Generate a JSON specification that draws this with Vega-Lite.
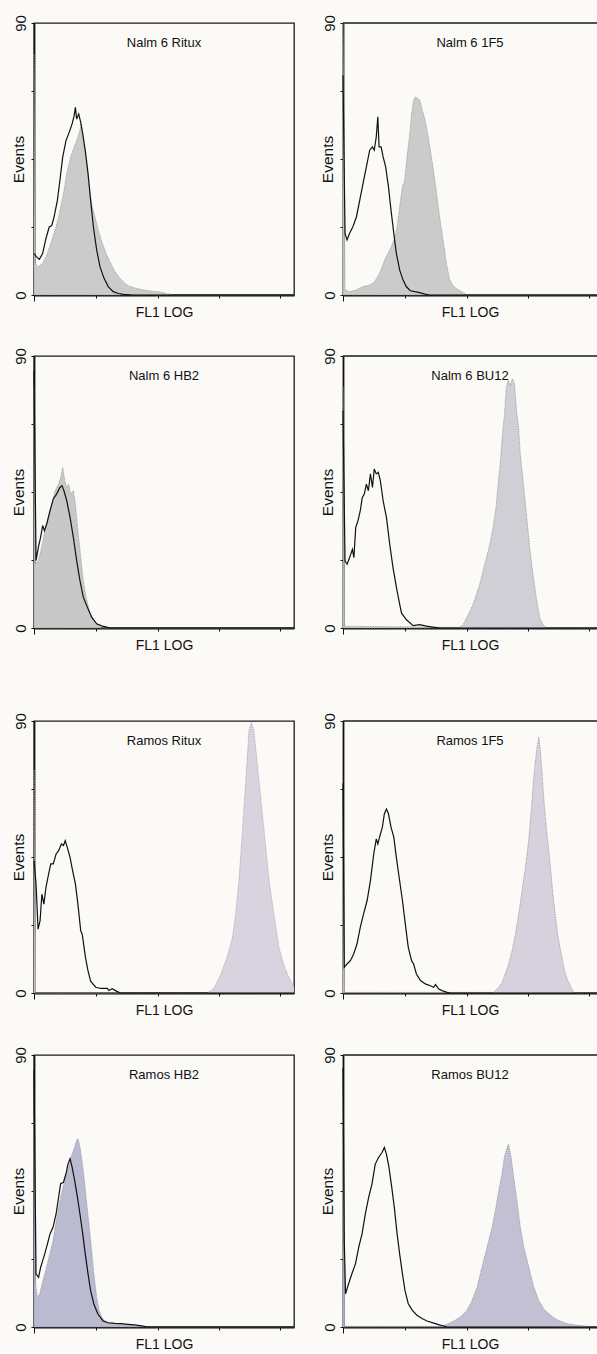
{
  "$schema": "https://vega.github.io/schema/vega-lite/v6.json",
  "background": "#fcfaf7",
  "padding": {"left": 10, "top": 14, "right": 0, "bottom": 0},
  "datasets": {
    "nalm6_ritux": [
      {"series":"control","channel":0,"events":13.7},{"series":"control","channel":10,"events":12.6},{"series":"control","channel":21,"events":11.8},{"series":"control","channel":34,"events":13.7},{"series":"control","channel":47,"events":18.7},{"series":"control","channel":60,"events":22.5},{"series":"control","channel":70,"events":23},{"series":"control","channel":79,"events":25.8},{"series":"control","channel":92,"events":31.3},{"series":"control","channel":102,"events":37.9},{"series":"control","channel":113,"events":45.6},{"series":"control","channel":126,"events":51.1},{"series":"control","channel":139,"events":53.9},{"series":"control","channel":150,"events":56.6},{"series":"control","channel":158,"events":59.3},{"series":"control","channel":163,"events":62.1},{"series":"control","channel":168,"events":58.2},{"series":"control","channel":176,"events":59.9},{"series":"control","channel":184,"events":57.1},{"series":"control","channel":192,"events":53.3},{"series":"control","channel":202,"events":47.8},{"series":"control","channel":213,"events":40.1},{"series":"control","channel":223,"events":31.3},{"series":"control","channel":234,"events":22.5},{"series":"control","channel":247,"events":14.8},{"series":"control","channel":260,"events":9.3},{"series":"control","channel":276,"events":5.5},{"series":"control","channel":293,"events":2.7},{"series":"control","channel":312,"events":1.1},{"series":"control","channel":332,"events":0.5},{"series":"control","channel":352,"events":0.2},{"series":"control","channel":391,"events":0},{"series":"control","channel":1024,"events":0},
      {"series":"stained","channel":0,"events":79.7},{"series":"stained","channel":5,"events":10.4},{"series":"stained","channel":17,"events":9.3},{"series":"stained","channel":34,"events":10.4},{"series":"stained","channel":50,"events":13.2},{"series":"stained","channel":66,"events":17},{"series":"stained","channel":83,"events":21.4},{"series":"stained","channel":100,"events":26.9},{"series":"stained","channel":116,"events":33.5},{"series":"stained","channel":129,"events":40.1},{"series":"stained","channel":144,"events":45.6},{"series":"stained","channel":158,"events":48.9},{"series":"stained","channel":168,"events":51.1},{"series":"stained","channel":179,"events":53.9},{"series":"stained","channel":186,"events":56.6},{"series":"stained","channel":194,"events":51.1},{"series":"stained","channel":205,"events":45.6},{"series":"stained","channel":215,"events":37.9},{"series":"stained","channel":227,"events":30.2},{"series":"stained","channel":240,"events":25.8},{"series":"stained","channel":253,"events":21.4},{"series":"stained","channel":267,"events":17.6},{"series":"stained","channel":284,"events":13.7},{"series":"stained","channel":299,"events":11},{"series":"stained","channel":319,"events":7.7},{"series":"stained","channel":339,"events":5.5},{"series":"stained","channel":365,"events":3.3},{"series":"stained","channel":391,"events":2.5},{"series":"stained","channel":417,"events":1.9},{"series":"stained","channel":457,"events":1.3},{"series":"stained","channel":496,"events":1},{"series":"stained","channel":522,"events":0.5},{"series":"stained","channel":549,"events":0},{"series":"stained","channel":1024,"events":0}
    ],
    "nalm6_1f5": [
      {"series":"control","channel":0,"events":72.7},{"series":"control","channel":8,"events":20.4},{"series":"control","channel":16,"events":18.2},{"series":"control","channel":26,"events":20.4},{"series":"control","channel":39,"events":22.6},{"series":"control","channel":53,"events":25.9},{"series":"control","channel":66,"events":31.4},{"series":"control","channel":79,"events":36.9},{"series":"control","channel":92,"events":42.4},{"series":"control","channel":105,"events":47.9},{"series":"control","channel":116,"events":49},{"series":"control","channel":123,"events":47.9},{"series":"control","channel":131,"events":52.3},{"series":"control","channel":137,"events":59},{"series":"control","channel":142,"events":49},{"series":"control","channel":150,"events":49},{"series":"control","channel":158,"events":45.7},{"series":"control","channel":168,"events":42.4},{"series":"control","channel":179,"events":35.8},{"series":"control","channel":189,"events":28.1},{"series":"control","channel":200,"events":20.4},{"series":"control","channel":210,"events":13.8},{"series":"control","channel":223,"events":8.3},{"series":"control","channel":236,"events":5},{"series":"control","channel":249,"events":2.8},{"series":"control","channel":265,"events":1.4},{"series":"control","channel":282,"events":1.1},{"series":"control","channel":302,"events":0.8},{"series":"control","channel":322,"events":0.3},{"series":"control","channel":341,"events":0},{"series":"control","channel":1000,"events":0},
      {"series":"stained","channel":0,"events":89.8},{"series":"stained","channel":8,"events":1.7},{"series":"stained","channel":26,"events":1.1},{"series":"stained","channel":53,"events":1.7},{"series":"stained","channel":79,"events":2.8},{"series":"stained","channel":105,"events":3.3},{"series":"stained","channel":125,"events":4.4},{"series":"stained","channel":144,"events":7.2},{"series":"stained","channel":164,"events":11.6},{"series":"stained","channel":177,"events":13.8},{"series":"stained","channel":190,"events":16},{"series":"stained","channel":203,"events":18.7},{"series":"stained","channel":213,"events":22.6},{"series":"stained","channel":223,"events":29.2},{"series":"stained","channel":234,"events":35.8},{"series":"stained","channel":243,"events":38},{"series":"stained","channel":252,"events":45.7},{"series":"stained","channel":263,"events":53.4},{"series":"stained","channel":270,"events":60},{"series":"stained","channel":278,"events":64.5},{"series":"stained","channel":286,"events":65.6},{"series":"stained","channel":294,"events":65},{"series":"stained","channel":302,"events":64.5},{"series":"stained","channel":312,"events":61.2},{"series":"stained","channel":323,"events":57.9},{"series":"stained","channel":333,"events":53.4},{"series":"stained","channel":344,"events":47.9},{"series":"stained","channel":354,"events":42.4},{"series":"stained","channel":365,"events":35.8},{"series":"stained","channel":375,"events":29.2},{"series":"stained","channel":386,"events":22.6},{"series":"stained","channel":396,"events":17.1},{"series":"stained","channel":407,"events":10.5},{"series":"stained","channel":420,"events":5},{"series":"stained","channel":436,"events":2.8},{"series":"stained","channel":453,"events":1.7},{"series":"stained","channel":473,"events":0.8},{"series":"stained","channel":486,"events":0},{"series":"stained","channel":1000,"events":0}
    ],
    "nalm6_hb2": [
      {"series":"control","channel":0,"events":85},{"series":"control","channel":8,"events":22.3},{"series":"control","channel":17,"events":26.7},{"series":"control","channel":26,"events":30},{"series":"control","channel":34,"events":33.9},{"series":"control","channel":41,"events":32.2},{"series":"control","channel":50,"events":34.4},{"series":"control","channel":63,"events":38.8},{"series":"control","channel":76,"events":42.7},{"series":"control","channel":89,"events":44.3},{"series":"control","channel":102,"events":46.5},{"series":"control","channel":110,"events":47.1},{"series":"control","channel":118,"events":45.4},{"series":"control","channel":129,"events":42.1},{"series":"control","channel":142,"events":36.6},{"series":"control","channel":155,"events":30},{"series":"control","channel":168,"events":22.3},{"series":"control","channel":181,"events":15.7},{"series":"control","channel":194,"events":10.2},{"series":"control","channel":210,"events":6.9},{"series":"control","channel":227,"events":3.6},{"series":"control","channel":247,"events":1.4},{"series":"control","channel":266,"events":0.7},{"series":"control","channel":286,"events":0.3},{"series":"control","channel":299,"events":0},{"series":"control","channel":1024,"events":0},
      {"series":"stained","channel":0,"events":80},{"series":"stained","channel":5,"events":21.2},{"series":"stained","channel":17,"events":22.3},{"series":"stained","channel":30,"events":26.7},{"series":"stained","channel":43,"events":32.2},{"series":"stained","channel":56,"events":36.6},{"series":"stained","channel":70,"events":41},{"series":"stained","channel":83,"events":45.4},{"series":"stained","channel":96,"events":47.6},{"series":"stained","channel":105,"events":49.8},{"series":"stained","channel":113,"events":53.1},{"series":"stained","channel":121,"events":48.7},{"series":"stained","channel":129,"events":46.5},{"series":"stained","channel":137,"events":47.6},{"series":"stained","channel":144,"events":44.3},{"series":"stained","channel":155,"events":45.4},{"series":"stained","channel":163,"events":41},{"series":"stained","channel":173,"events":32.2},{"series":"stained","channel":184,"events":23.4},{"series":"stained","channel":194,"events":15.7},{"series":"stained","channel":205,"events":10.2},{"series":"stained","channel":218,"events":5.8},{"series":"stained","channel":234,"events":2.5},{"series":"stained","channel":253,"events":0.9},{"series":"stained","channel":266,"events":0},{"series":"stained","channel":1024,"events":0}
    ],
    "nalm6_bu12": [
      {"series":"control","channel":0,"events":72},{"series":"control","channel":8,"events":22.2},{"series":"control","channel":16,"events":21.1},{"series":"control","channel":26,"events":23.3},{"series":"control","channel":37,"events":26},{"series":"control","channel":43,"events":23.3},{"series":"control","channel":50,"events":33.2},{"series":"control","channel":59,"events":35.5},{"series":"control","channel":68,"events":38.8},{"series":"control","channel":76,"events":43.2},{"series":"control","channel":84,"events":44.3},{"series":"control","channel":92,"events":47.6},{"series":"control","channel":100,"events":45.4},{"series":"control","channel":108,"events":51},{"series":"control","channel":116,"events":46.5},{"series":"control","channel":123,"events":52.6},{"series":"control","channel":131,"events":51},{"series":"control","channel":139,"events":51.5},{"series":"control","channel":147,"events":48.8},{"series":"control","channel":158,"events":42.1},{"series":"control","channel":171,"events":36.6},{"series":"control","channel":184,"events":27.7},{"series":"control","channel":197,"events":19.9},{"series":"control","channel":213,"events":12.2},{"series":"control","channel":230,"events":5},{"series":"control","channel":249,"events":2.8},{"series":"control","channel":276,"events":0.8},{"series":"control","channel":302,"events":1.1},{"series":"control","channel":328,"events":0.6},{"series":"control","channel":354,"events":0.3},{"series":"control","channel":381,"events":0},{"series":"control","channel":1000,"events":0},
      {"series":"stained","channel":0,"events":79.8},{"series":"stained","channel":5,"events":0.6},{"series":"stained","channel":459,"events":0.2},{"series":"stained","channel":473,"events":1.1},{"series":"stained","channel":486,"events":3.3},{"series":"stained","channel":499,"events":5.5},{"series":"stained","channel":512,"events":7.8},{"series":"stained","channel":525,"events":11.1},{"series":"stained","channel":538,"events":14.4},{"series":"stained","channel":551,"events":18.8},{"series":"stained","channel":565,"events":23.3},{"series":"stained","channel":578,"events":27.7},{"series":"stained","channel":591,"events":33.2},{"series":"stained","channel":604,"events":41},{"series":"stained","channel":612,"events":48.8},{"series":"stained","channel":620,"events":55.4},{"series":"stained","channel":628,"events":64.3},{"series":"stained","channel":636,"events":70.9},{"series":"stained","channel":643,"events":79.8},{"series":"stained","channel":651,"events":82},{"series":"stained","channel":659,"events":80.3},{"series":"stained","channel":667,"events":82.5},{"series":"stained","channel":675,"events":80.9},{"series":"stained","channel":683,"events":72},{"series":"stained","channel":691,"events":66.5},{"series":"stained","channel":698,"events":57.6},{"series":"stained","channel":709,"events":48.8},{"series":"stained","channel":722,"events":37.7},{"series":"stained","channel":735,"events":26.6},{"series":"stained","channel":748,"events":17.7},{"series":"stained","channel":761,"events":10},{"series":"stained","channel":775,"events":3.3},{"series":"stained","channel":788,"events":1.1},{"series":"stained","channel":801,"events":0},{"series":"stained","channel":1000,"events":0}
    ],
    "ramos_ritux": [
      {"series":"control","channel":0,"events":43.8},{"series":"control","channel":8,"events":36.1},{"series":"control","channel":16,"events":21.1},{"series":"control","channel":24,"events":23.9},{"series":"control","channel":31,"events":32.7},{"series":"control","channel":39,"events":29.4},{"series":"control","channel":47,"events":34.9},{"series":"control","channel":55,"events":38.3},{"series":"control","channel":66,"events":42.7},{"series":"control","channel":76,"events":42.7},{"series":"control","channel":87,"events":46},{"series":"control","channel":97,"events":47.1},{"series":"control","channel":108,"events":49.3},{"series":"control","channel":116,"events":48.8},{"series":"control","channel":123,"events":50.4},{"series":"control","channel":131,"events":48.2},{"series":"control","channel":142,"events":44.9},{"series":"control","channel":152,"events":40.5},{"series":"control","channel":163,"events":36.1},{"series":"control","channel":173,"events":29.4},{"series":"control","channel":184,"events":20.6},{"series":"control","channel":190,"events":19.4},{"series":"control","channel":203,"events":11.6},{"series":"control","channel":213,"events":7.2},{"series":"control","channel":223,"events":3.9},{"series":"control","channel":243,"events":1.9},{"series":"control","channel":263,"events":1.5},{"series":"control","channel":289,"events":1.5},{"series":"control","channel":295,"events":0.8},{"series":"control","channel":308,"events":1.4},{"series":"control","channel":322,"events":0.7},{"series":"control","channel":341,"events":0},{"series":"control","channel":1024,"events":0},
      {"series":"stained","channel":0,"events":73.7},{"series":"stained","channel":5,"events":0},{"series":"stained","channel":683,"events":0},{"series":"stained","channel":709,"events":1.6},{"series":"stained","channel":735,"events":6},{"series":"stained","channel":761,"events":12},{"series":"stained","channel":781,"events":18},{"series":"stained","channel":794,"events":26.1},{"series":"stained","channel":807,"events":37.2},{"series":"stained","channel":821,"events":53.8},{"series":"stained","channel":834,"events":70.3},{"series":"stained","channel":847,"events":86.9},{"series":"stained","channel":856,"events":89.5},{"series":"stained","channel":866,"events":86.9},{"series":"stained","channel":886,"events":70.3},{"series":"stained","channel":906,"events":53.8},{"series":"stained","channel":926,"events":37.2},{"series":"stained","channel":945,"events":26},{"series":"stained","channel":965,"events":15},{"series":"stained","channel":985,"events":9},{"series":"stained","channel":1005,"events":5},{"series":"stained","channel":1024,"events":2}
    ],
    "ramos_1f5": [
      {"series":"control","channel":0,"events":69.4},{"series":"control","channel":5,"events":8.5},{"series":"control","channel":16,"events":9.6},{"series":"control","channel":29,"events":10.7},{"series":"control","channel":42,"events":12.9},{"series":"control","channel":55,"events":16.2},{"series":"control","channel":68,"events":21.7},{"series":"control","channel":81,"events":26.2},{"series":"control","channel":95,"events":30.6},{"series":"control","channel":108,"events":37.2},{"series":"control","channel":121,"events":46},{"series":"control","channel":131,"events":51},{"series":"control","channel":137,"events":49.3},{"series":"control","channel":144,"events":51.6},{"series":"control","channel":155,"events":54.9},{"series":"control","channel":163,"events":59.3},{"series":"control","channel":171,"events":60.9},{"series":"control","channel":179,"events":59.3},{"series":"control","channel":189,"events":54.9},{"series":"control","channel":200,"events":51.6},{"series":"control","channel":210,"events":44.9},{"series":"control","channel":221,"events":38.3},{"series":"control","channel":234,"events":30.6},{"series":"control","channel":247,"events":21.7},{"series":"control","channel":257,"events":15.1},{"series":"control","channel":270,"events":10.7},{"series":"control","channel":278,"events":9.6},{"series":"control","channel":289,"events":6.3},{"series":"control","channel":305,"events":4.1},{"series":"control","channel":324,"events":3},{"series":"control","channel":344,"events":2.4},{"series":"control","channel":357,"events":1.9},{"series":"control","channel":364,"events":2.8},{"series":"control","channel":377,"events":1.3},{"series":"control","channel":390,"events":0.8},{"series":"control","channel":410,"events":0.2},{"series":"control","channel":423,"events":0},{"series":"control","channel":1000,"events":0},
      {"series":"stained","channel":0,"events":42.7},{"series":"stained","channel":5,"events":0.2},{"series":"stained","channel":593,"events":0.2},{"series":"stained","channel":613,"events":1.9},{"series":"stained","channel":626,"events":3.5},{"series":"stained","channel":639,"events":6.3},{"series":"stained","channel":652,"events":9.6},{"series":"stained","channel":666,"events":14},{"series":"stained","channel":679,"events":19.5},{"series":"stained","channel":692,"events":26.2},{"series":"stained","channel":705,"events":33.9},{"series":"stained","channel":718,"events":41.6},{"series":"stained","channel":731,"events":50.5},{"series":"stained","channel":740,"events":59.3},{"series":"stained","channel":748,"events":68.1},{"series":"stained","channel":756,"events":75.8},{"series":"stained","channel":764,"events":81.3},{"series":"stained","channel":771,"events":84.7},{"series":"stained","channel":777,"events":80.2},{"series":"stained","channel":785,"events":71.4},{"series":"stained","channel":793,"events":61.5},{"series":"stained","channel":803,"events":52.7},{"series":"stained","channel":814,"events":43.8},{"series":"stained","channel":824,"events":35},{"series":"stained","channel":835,"events":26.2},{"series":"stained","channel":845,"events":19.5},{"series":"stained","channel":859,"events":12.9},{"series":"stained","channel":872,"events":7.4},{"series":"stained","channel":885,"events":4.1},{"series":"stained","channel":898,"events":1.9},{"series":"stained","channel":908,"events":0.2},{"series":"stained","channel":922,"events":0},{"series":"stained","channel":1000,"events":0}
    ],
    "ramos_hb2": [
      {"series":"control","channel":0,"events":85},{"series":"control","channel":8,"events":17.5},{"series":"control","channel":18,"events":16.4},{"series":"control","channel":26,"events":19.7},{"series":"control","channel":34,"events":21.9},{"series":"control","channel":42,"events":24.1},{"series":"control","channel":53,"events":27.5},{"series":"control","channel":63,"events":30.8},{"series":"control","channel":75,"events":33},{"series":"control","channel":87,"events":37.4},{"series":"control","channel":97,"events":43},{"series":"control","channel":105,"events":47.4},{"series":"control","channel":116,"events":47.9},{"series":"control","channel":126,"events":50.7},{"series":"control","channel":134,"events":54},{"series":"control","channel":142,"events":55.7},{"series":"control","channel":150,"events":52.9},{"series":"control","channel":160,"events":48.5},{"series":"control","channel":171,"events":43},{"series":"control","channel":181,"events":37.4},{"series":"control","channel":192,"events":30.8},{"series":"control","channel":202,"events":24.1},{"series":"control","channel":213,"events":17.5},{"series":"control","channel":223,"events":12},{"series":"control","channel":236,"events":7.5},{"series":"control","channel":252,"events":4.2},{"series":"control","channel":272,"events":2},{"series":"control","channel":291,"events":1.4},{"series":"control","channel":318,"events":1.2},{"series":"control","channel":344,"events":1.1},{"series":"control","channel":370,"events":0.9},{"series":"control","channel":396,"events":0.7},{"series":"control","channel":423,"events":0.4},{"series":"control","channel":449,"events":0},{"series":"control","channel":1024,"events":0},
      {"series":"stained","channel":0,"events":69.5},{"series":"stained","channel":5,"events":15.3},{"series":"stained","channel":13,"events":9.7},{"series":"stained","channel":22,"events":10.8},{"series":"stained","channel":35,"events":15.3},{"series":"stained","channel":49,"events":19.7},{"series":"stained","channel":62,"events":24.1},{"series":"stained","channel":75,"events":28.6},{"series":"stained","channel":88,"events":35.2},{"series":"stained","channel":97,"events":39.6},{"series":"stained","channel":108,"events":44.1},{"series":"stained","channel":118,"events":47.4},{"series":"stained","channel":129,"events":50.7},{"series":"stained","channel":139,"events":54},{"series":"stained","channel":150,"events":57.3},{"series":"stained","channel":160,"events":59.6},{"series":"stained","channel":168,"events":61.8},{"series":"stained","channel":173,"events":62.3},{"series":"stained","channel":181,"events":59.6},{"series":"stained","channel":189,"events":55.1},{"series":"stained","channel":197,"events":49.6},{"series":"stained","channel":205,"events":43},{"series":"stained","channel":215,"events":35.2},{"series":"stained","channel":226,"events":26.3},{"series":"stained","channel":236,"events":17.5},{"series":"stained","channel":247,"events":9.7},{"series":"stained","channel":257,"events":5.3},{"series":"stained","channel":268,"events":3.1},{"series":"stained","channel":281,"events":2},{"series":"stained","channel":298,"events":1.4},{"series":"stained","channel":318,"events":1.2},{"series":"stained","channel":344,"events":0.9},{"series":"stained","channel":370,"events":0.7},{"series":"stained","channel":396,"events":0.4},{"series":"stained","channel":423,"events":0.3},{"series":"stained","channel":456,"events":0},{"series":"stained","channel":1024,"events":0}
    ],
    "ramos_bu12": [
      {"series":"control","channel":0,"events":85.8},{"series":"control","channel":5,"events":28.6},{"series":"control","channel":10,"events":11},{"series":"control","channel":22,"events":14.3},{"series":"control","channel":35,"events":17.6},{"series":"control","channel":49,"events":20.9},{"series":"control","channel":62,"events":26.4},{"series":"control","channel":75,"events":30.8},{"series":"control","channel":88,"events":37.4},{"series":"control","channel":101,"events":42.9},{"series":"control","channel":114,"events":47.3},{"series":"control","channel":127,"events":53.9},{"series":"control","channel":140,"events":56.1},{"series":"control","channel":154,"events":57.8},{"series":"control","channel":163,"events":59.4},{"series":"control","channel":171,"events":57.2},{"series":"control","channel":181,"events":52.8},{"series":"control","channel":192,"events":46.2},{"series":"control","channel":202,"events":39.6},{"series":"control","channel":213,"events":30.8},{"series":"control","channel":223,"events":24.2},{"series":"control","channel":234,"events":17.6},{"series":"control","channel":244,"events":12.1},{"series":"control","channel":257,"events":7.7},{"series":"control","channel":273,"events":5.5},{"series":"control","channel":291,"events":3.9},{"series":"control","channel":311,"events":2.8},{"series":"control","channel":331,"events":2},{"series":"control","channel":357,"events":1.3},{"series":"control","channel":383,"events":0.6},{"series":"control","channel":410,"events":0},{"series":"control","channel":1000,"events":0},
      {"series":"stained","channel":0,"events":66},{"series":"stained","channel":5,"events":0.2},{"series":"stained","channel":383,"events":0.2},{"series":"stained","channel":410,"events":0.9},{"series":"stained","channel":436,"events":2},{"series":"stained","channel":462,"events":3.3},{"series":"stained","channel":488,"events":5.5},{"series":"stained","channel":508,"events":8.8},{"series":"stained","channel":528,"events":13.2},{"series":"stained","channel":547,"events":19.8},{"series":"stained","channel":567,"events":26.4},{"series":"stained","channel":587,"events":33},{"series":"stained","channel":600,"events":38.5},{"series":"stained","channel":613,"events":45.1},{"series":"stained","channel":626,"events":50.6},{"series":"stained","channel":635,"events":56.1},{"series":"stained","channel":646,"events":59.4},{"series":"stained","channel":652,"events":60.5},{"series":"stained","channel":662,"events":56.1},{"series":"stained","channel":672,"events":49.5},{"series":"stained","channel":685,"events":41.8},{"series":"stained","channel":698,"events":33},{"series":"stained","channel":712,"events":26.4},{"series":"stained","channel":725,"events":22},{"series":"stained","channel":738,"events":17.6},{"series":"stained","channel":751,"events":13.2},{"series":"stained","channel":771,"events":8.8},{"series":"stained","channel":790,"events":6},{"series":"stained","channel":817,"events":3.9},{"series":"stained","channel":843,"events":2.4},{"series":"stained","channel":882,"events":1.1},{"series":"stained","channel":922,"events":0.6},{"series":"stained","channel":974,"events":0.2},{"series":"stained","channel":1000,"events":0}
    ]
  },
  "spacing": 59,
  "vconcat": [
    {
      "spacing": 27,
      "vconcat": [
        {
          "spacing": 22,
          "hconcat": [
            {
              "width": 260, "height": 272, "title": "Nalm 6 Ritux",
              "data": {"name": "nalm6_ritux"},
              "layer": [
                {"transform": [{"filter": "datum.series === 'stained'"}],
                 "mark": {"type": "area", "fill": "#cbcbcb", "stroke": "#8c8c8c", "strokeWidth": 0.7, "strokeDash": [1.5, 1]},
                 "encoding": {
                   "x": {"field": "channel", "type": "quantitative", "scale": {"domain": [0, 1024], "nice": false, "zero": false},
                         "axis": {"title": "FL1 LOG", "values": [0,77.1,122.1,154.1,178.9,199.2,216.3,231.2,244.3,256,333.1,378.1,410.1,434.9,455.2,472.3,487.2,500.3,512,589.1,634.1,666.1,690.9,711.2,728.3,743.2,756.3,768,845.1,890.1,922.1,946.9,967.2,984.3,999.2,1012.3,1024],
                                  "tickSize": {"condition": {"test": "datum.value % 256 === 0", "value": 6}, "value": 3}}},
                   "y": {"field": "events", "type": "quantitative", "scale": {"domain": [0, 90], "nice": false},
                         "axis": {"title": "Events", "values": [0,11.25,22.5,33.75,45,56.25,67.5,78.75,90], "labelExpr": "datum.value === 0 || datum.value === 90 ? datum.label : ''"}}
                 }},
                {"transform": [{"filter": "datum.series === 'control'"}],
                 "mark": {"type": "line", "color": "#111111", "strokeWidth": 1.2},
                 "encoding": {
                   "x": {"field": "channel", "type": "quantitative", "scale": {"domain": [0, 1024], "nice": false, "zero": false}},
                   "y": {"field": "events", "type": "quantitative", "scale": {"domain": [0, 90], "nice": false}}
                 }}
              ]
            },
            {
              "width": 254, "height": 272, "title": "Nalm 6 1F5",
              "view": {"stroke": null},
              "data": {"name": "nalm6_1f5"},
              "layer": [
                {"transform": [{"filter": "datum.series === 'stained'"}],
                 "mark": {"type": "area", "fill": "#cbcbcb", "stroke": "#8c8c8c", "strokeWidth": 0.7, "strokeDash": [1.5, 1]},
                 "encoding": {
                   "x": {"field": "channel", "type": "quantitative", "scale": {"domain": [0, 1000], "nice": false, "zero": false},
                         "axis": {"title": "FL1 LOG", "values": [0,77.1,122.1,154.1,178.9,199.2,216.3,231.2,244.3,256,333.1,378.1,410.1,434.9,455.2,472.3,487.2,500.3,512,589.1,634.1,666.1,690.9,711.2,728.3,743.2,756.3,768,845.1,890.1,922.1,946.9,967.2,984.3,999.2],
                                  "tickSize": {"condition": {"test": "datum.value % 256 === 0", "value": 6}, "value": 3}}},
                   "y": {"field": "events", "type": "quantitative", "scale": {"domain": [0, 90], "nice": false},
                         "axis": {"title": "Events", "values": [0,11.25,22.5,33.75,45,56.25,67.5,78.75,90], "labelExpr": "datum.value === 0 || datum.value === 90 ? datum.label : ''"}}
                 }},
                {"transform": [{"filter": "datum.series === 'control'"}],
                 "mark": {"type": "line", "color": "#111111", "strokeWidth": 1.2},
                 "encoding": {
                   "x": {"field": "channel", "type": "quantitative", "scale": {"domain": [0, 1000], "nice": false, "zero": false}},
                   "y": {"field": "events", "type": "quantitative", "scale": {"domain": [0, 90], "nice": false}}
                 }},
                {"data": {"values": [{}]},
                 "mark": {"type": "rule", "color": "#1a1a1a", "strokeWidth": 1.3},
                 "encoding": {"y": {"datum": 90}}}
              ]
            }
          ]
        },
        {
          "spacing": 22,
          "hconcat": [
            {
              "width": 260, "height": 272, "title": "Nalm 6 HB2",
              "data": {"name": "nalm6_hb2"},
              "layer": [
                {"transform": [{"filter": "datum.series === 'stained'"}],
                 "mark": {"type": "area", "fill": "#c8c8c8", "stroke": "#8c8c8c", "strokeWidth": 0.7, "strokeDash": [1.5, 1]},
                 "encoding": {
                   "x": {"field": "channel", "type": "quantitative", "scale": {"domain": [0, 1024], "nice": false, "zero": false},
                         "axis": {"title": "FL1 LOG", "values": [0,77.1,122.1,154.1,178.9,199.2,216.3,231.2,244.3,256,333.1,378.1,410.1,434.9,455.2,472.3,487.2,500.3,512,589.1,634.1,666.1,690.9,711.2,728.3,743.2,756.3,768,845.1,890.1,922.1,946.9,967.2,984.3,999.2,1012.3,1024],
                                  "tickSize": {"condition": {"test": "datum.value % 256 === 0", "value": 6}, "value": 3}}},
                   "y": {"field": "events", "type": "quantitative", "scale": {"domain": [0, 90], "nice": false},
                         "axis": {"title": "Events", "values": [0,11.25,22.5,33.75,45,56.25,67.5,78.75,90], "labelExpr": "datum.value === 0 || datum.value === 90 ? datum.label : ''"}}
                 }},
                {"transform": [{"filter": "datum.series === 'control'"}],
                 "mark": {"type": "line", "color": "#111111", "strokeWidth": 1.2},
                 "encoding": {
                   "x": {"field": "channel", "type": "quantitative", "scale": {"domain": [0, 1024], "nice": false, "zero": false}},
                   "y": {"field": "events", "type": "quantitative", "scale": {"domain": [0, 90], "nice": false}}
                 }}
              ]
            },
            {
              "width": 254, "height": 272, "title": "Nalm 6 BU12",
              "view": {"stroke": null},
              "data": {"name": "nalm6_bu12"},
              "layer": [
                {"transform": [{"filter": "datum.series === 'stained'"}],
                 "mark": {"type": "area", "fill": "#d0cfd5", "stroke": "#8c8c8c", "strokeWidth": 0.7, "strokeDash": [1.5, 1]},
                 "encoding": {
                   "x": {"field": "channel", "type": "quantitative", "scale": {"domain": [0, 1000], "nice": false, "zero": false},
                         "axis": {"title": "FL1 LOG", "values": [0,77.1,122.1,154.1,178.9,199.2,216.3,231.2,244.3,256,333.1,378.1,410.1,434.9,455.2,472.3,487.2,500.3,512,589.1,634.1,666.1,690.9,711.2,728.3,743.2,756.3,768,845.1,890.1,922.1,946.9,967.2,984.3,999.2],
                                  "tickSize": {"condition": {"test": "datum.value % 256 === 0", "value": 6}, "value": 3}}},
                   "y": {"field": "events", "type": "quantitative", "scale": {"domain": [0, 90], "nice": false},
                         "axis": {"title": "Events", "values": [0,11.25,22.5,33.75,45,56.25,67.5,78.75,90], "labelExpr": "datum.value === 0 || datum.value === 90 ? datum.label : ''"}}
                 }},
                {"transform": [{"filter": "datum.series === 'control'"}],
                 "mark": {"type": "line", "color": "#111111", "strokeWidth": 1.2},
                 "encoding": {
                   "x": {"field": "channel", "type": "quantitative", "scale": {"domain": [0, 1000], "nice": false, "zero": false}},
                   "y": {"field": "events", "type": "quantitative", "scale": {"domain": [0, 90], "nice": false}}
                 }},
                {"data": {"values": [{}]},
                 "mark": {"type": "rule", "color": "#1a1a1a", "strokeWidth": 1.3},
                 "encoding": {"y": {"datum": 90}}}
              ]
            }
          ]
        }
      ]
    },
    {
      "spacing": 28,
      "vconcat": [
        {
          "spacing": 22,
          "hconcat": [
            {
              "width": 260, "height": 272, "title": "Ramos Ritux",
              "data": {"name": "ramos_ritux"},
              "layer": [
                {"transform": [{"filter": "datum.series === 'stained'"}],
                 "mark": {"type": "area", "fill": "#d8d3df", "stroke": "#a09ca8", "strokeWidth": 0.7, "strokeDash": [1.5, 1]},
                 "encoding": {
                   "x": {"field": "channel", "type": "quantitative", "scale": {"domain": [0, 1024], "nice": false, "zero": false},
                         "axis": {"title": "FL1 LOG", "values": [0,77.1,122.1,154.1,178.9,199.2,216.3,231.2,244.3,256,333.1,378.1,410.1,434.9,455.2,472.3,487.2,500.3,512,589.1,634.1,666.1,690.9,711.2,728.3,743.2,756.3,768,845.1,890.1,922.1,946.9,967.2,984.3,999.2,1012.3,1024],
                                  "tickSize": {"condition": {"test": "datum.value % 256 === 0", "value": 6}, "value": 3}}},
                   "y": {"field": "events", "type": "quantitative", "scale": {"domain": [0, 90], "nice": false},
                         "axis": {"title": "Events", "values": [0,11.25,22.5,33.75,45,56.25,67.5,78.75,90], "labelExpr": "datum.value === 0 || datum.value === 90 ? datum.label : ''"}}
                 }},
                {"transform": [{"filter": "datum.series === 'control'"}],
                 "mark": {"type": "line", "color": "#111111", "strokeWidth": 1.2},
                 "encoding": {
                   "x": {"field": "channel", "type": "quantitative", "scale": {"domain": [0, 1024], "nice": false, "zero": false}},
                   "y": {"field": "events", "type": "quantitative", "scale": {"domain": [0, 90], "nice": false}}
                 }}
              ]
            },
            {
              "width": 254, "height": 272, "title": "Ramos 1F5",
              "view": {"stroke": null},
              "data": {"name": "ramos_1f5"},
              "layer": [
                {"transform": [{"filter": "datum.series === 'stained'"}],
                 "mark": {"type": "area", "fill": "#d5d1dd", "stroke": "#8f8b98", "strokeWidth": 0.7, "strokeDash": [1.5, 1]},
                 "encoding": {
                   "x": {"field": "channel", "type": "quantitative", "scale": {"domain": [0, 1000], "nice": false, "zero": false},
                         "axis": {"title": "FL1 LOG", "values": [0,77.1,122.1,154.1,178.9,199.2,216.3,231.2,244.3,256,333.1,378.1,410.1,434.9,455.2,472.3,487.2,500.3,512,589.1,634.1,666.1,690.9,711.2,728.3,743.2,756.3,768,845.1,890.1,922.1,946.9,967.2,984.3,999.2],
                                  "tickSize": {"condition": {"test": "datum.value % 256 === 0", "value": 6}, "value": 3}}},
                   "y": {"field": "events", "type": "quantitative", "scale": {"domain": [0, 90], "nice": false},
                         "axis": {"title": "Events", "values": [0,11.25,22.5,33.75,45,56.25,67.5,78.75,90], "labelExpr": "datum.value === 0 || datum.value === 90 ? datum.label : ''"}}
                 }},
                {"transform": [{"filter": "datum.series === 'control'"}],
                 "mark": {"type": "line", "color": "#111111", "strokeWidth": 1.2},
                 "encoding": {
                   "x": {"field": "channel", "type": "quantitative", "scale": {"domain": [0, 1000], "nice": false, "zero": false}},
                   "y": {"field": "events", "type": "quantitative", "scale": {"domain": [0, 90], "nice": false}}
                 }},
                {"data": {"values": [{}]},
                 "mark": {"type": "rule", "color": "#1a1a1a", "strokeWidth": 1.3},
                 "encoding": {"y": {"datum": 90}}}
              ]
            }
          ]
        },
        {
          "spacing": 22,
          "hconcat": [
            {
              "width": 260, "height": 272, "title": "Ramos HB2",
              "data": {"name": "ramos_hb2"},
              "layer": [
                {"transform": [{"filter": "datum.series === 'stained'"}],
                 "mark": {"type": "area", "fill": "#babbd1", "stroke": "#8a8a9c", "strokeWidth": 0.7, "strokeDash": [1.5, 1]},
                 "encoding": {
                   "x": {"field": "channel", "type": "quantitative", "scale": {"domain": [0, 1024], "nice": false, "zero": false},
                         "axis": {"title": "FL1 LOG", "values": [0,77.1,122.1,154.1,178.9,199.2,216.3,231.2,244.3,256,333.1,378.1,410.1,434.9,455.2,472.3,487.2,500.3,512,589.1,634.1,666.1,690.9,711.2,728.3,743.2,756.3,768,845.1,890.1,922.1,946.9,967.2,984.3,999.2,1012.3,1024],
                                  "tickSize": {"condition": {"test": "datum.value % 256 === 0", "value": 6}, "value": 3}}},
                   "y": {"field": "events", "type": "quantitative", "scale": {"domain": [0, 90], "nice": false},
                         "axis": {"title": "Events", "values": [0,11.25,22.5,33.75,45,56.25,67.5,78.75,90], "labelExpr": "datum.value === 0 || datum.value === 90 ? datum.label : ''"}}
                 }},
                {"transform": [{"filter": "datum.series === 'control'"}],
                 "mark": {"type": "line", "color": "#111111", "strokeWidth": 1.2},
                 "encoding": {
                   "x": {"field": "channel", "type": "quantitative", "scale": {"domain": [0, 1024], "nice": false, "zero": false}},
                   "y": {"field": "events", "type": "quantitative", "scale": {"domain": [0, 90], "nice": false}}
                 }}
              ]
            },
            {
              "width": 254, "height": 272, "title": "Ramos BU12",
              "view": {"stroke": null},
              "data": {"name": "ramos_bu12"},
              "layer": [
                {"transform": [{"filter": "datum.series === 'stained'"}],
                 "mark": {"type": "area", "fill": "#c4c0d3", "stroke": "#8a8698", "strokeWidth": 0.7, "strokeDash": [1.5, 1]},
                 "encoding": {
                   "x": {"field": "channel", "type": "quantitative", "scale": {"domain": [0, 1000], "nice": false, "zero": false},
                         "axis": {"title": "FL1 LOG", "values": [0,77.1,122.1,154.1,178.9,199.2,216.3,231.2,244.3,256,333.1,378.1,410.1,434.9,455.2,472.3,487.2,500.3,512,589.1,634.1,666.1,690.9,711.2,728.3,743.2,756.3,768,845.1,890.1,922.1,946.9,967.2,984.3,999.2],
                                  "tickSize": {"condition": {"test": "datum.value % 256 === 0", "value": 6}, "value": 3}}},
                   "y": {"field": "events", "type": "quantitative", "scale": {"domain": [0, 90], "nice": false},
                         "axis": {"title": "Events", "values": [0,11.25,22.5,33.75,45,56.25,67.5,78.75,90], "labelExpr": "datum.value === 0 || datum.value === 90 ? datum.label : ''"}}
                 }},
                {"transform": [{"filter": "datum.series === 'control'"}],
                 "mark": {"type": "line", "color": "#111111", "strokeWidth": 1.2},
                 "encoding": {
                   "x": {"field": "channel", "type": "quantitative", "scale": {"domain": [0, 1000], "nice": false, "zero": false}},
                   "y": {"field": "events", "type": "quantitative", "scale": {"domain": [0, 90], "nice": false}}
                 }},
                {"data": {"values": [{}]},
                 "mark": {"type": "rule", "color": "#1a1a1a", "strokeWidth": 1.3},
                 "encoding": {"y": {"datum": 90}}}
              ]
            }
          ]
        }
      ]
    }
  ],
  "config": {
    "font": "Liberation Sans, Arial, Helvetica, sans-serif",
    "view": {"stroke": "#1a1a1a", "strokeWidth": 1.3, "fill": "#fcfaf7"},
    "axis": {"domainColor": "#111111", "domainWidth": 1.8, "tickColor": "#111111", "tickWidth": 1, "grid": false, "labelColor": "#111111", "titleColor": "#111111", "titleFontWeight": "normal", "labelOverlap": false},
    "axisX": {"labels": false, "titleFontSize": 14, "titleY": 17, "titleBaseline": "middle"},
    "axisY": {"tickSize": 3, "labelFontSize": 15, "labelAngle": -90, "labelAlign": "center", "labelBaseline": "bottom", "labelPadding": 3, "titleFontSize": 15.5, "titleX": -16, "titleY": 136, "titleAngle": -90, "titleAlign": "center", "titleBaseline": "middle"},
    "title": {"fontSize": 13, "fontWeight": "normal", "color": "#111111", "anchor": "middle", "frame": "group", "offset": -35, "baseline": "middle"}
  }
}
